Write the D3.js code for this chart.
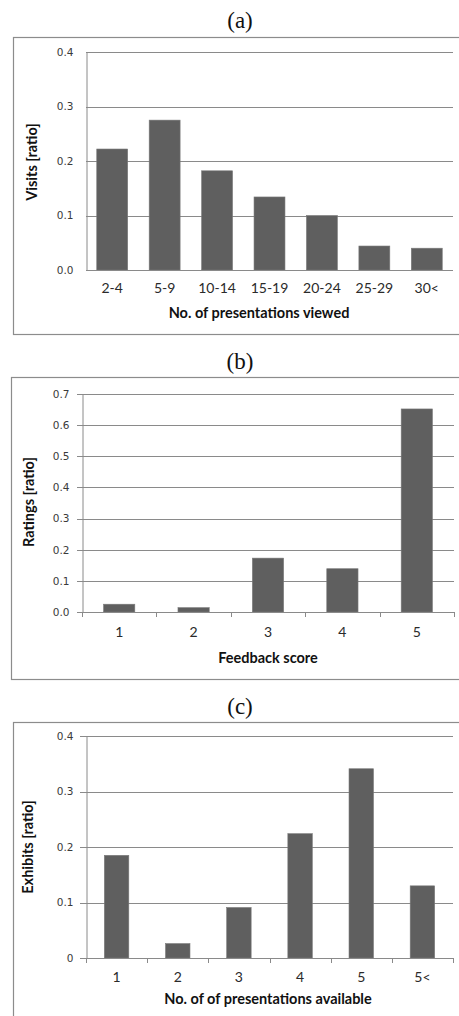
<!DOCTYPE html>
<html>
<head>
<meta charset="utf-8">
<script src="https://cdn.jsdelivr.net/npm/d3@7"></script>
<style>
  body { margin: 0; background: #fff; }
  svg { display: block; }
</style>
</head>
<body>
<div id="chart"></div>
<script>
// panel (a)
var viewedCats = ["2-4", "5-9", "10-14", "15-19", "20-24", "25-29", "30<"];
var viewedVals = [0.222, 0.275, 0.182, 0.134, 0.100, 0.044, 0.040];
var viewedTicks = [0, 0.1, 0.2, 0.3, 0.4];

// panel (b)
var scoreCats = ["1", "2", "3", "4", "5"];
var scoreVals = [0.025, 0.014, 0.173, 0.139, 0.652];
var scoreTicks = [0, 0.1, 0.2, 0.3, 0.4, 0.5, 0.6, 0.7];

// panel (c)
var availCats = ["1", "2", "3", "4", "5", "5<"];
var availVals = [0.185, 0.026, 0.091, 0.224, 0.341, 0.130];
var availTicks = [0, 0.1, 0.2, 0.3, 0.4];
var availTickLabels = ["0", "0.1", "0.2", "0.3", "0.4"];

var width = 459, height = 1016;

var svg = d3.select("#chart").append("svg")
    .attr("width", width)
    .attr("height", height);

function drawPanel(p) {
    // outer frame
    svg.append("rect")
        .attr("x", p.box[0] + 0.5)
        .attr("y", p.box[1] + 0.5)
        .attr("width", p.box[2])
        .attr("height", p.box[3])
        .attr("fill", "none")
        .attr("stroke", "#8c8c8c")
        .attr("stroke-width", 1.2);

    svg.append("text")
        .attr("x", 240)
        .attr("y", p.titleY)
        .attr("text-anchor", "middle")
        .attr("font-family", "Liberation Serif")
        .attr("font-size", 23)
        .attr("fill", "#111")
        .text(p.title);

    var x = d3.scaleBand()
        .domain(p.cats)
        .range([p.left, p.right])
        .paddingInner(p.pad)
        .paddingOuter(p.pad / 2);

    var y = d3.scaleLinear()
        .domain([0, p.ymax])
        .range([p.bottom, p.top]);

    // gridlines
    svg.append("g")
        .selectAll("line")
        .data(p.ticks)
        .enter()
        .append("line")
        .attr("x1", p.left - p.tickLen)
        .attr("x2", p.right)
        .attr("y1", function (d) { return Math.round(y(d)) + 0.5; })
        .attr("y2", function (d) { return Math.round(y(d)) + 0.5; })
        .attr("stroke", "#8a8a8a")
        .attr("stroke-width", 1);

    // y axis labels
    var yAxis = d3.axisLeft(y)
        .tickValues(p.ticks)
        .tickSize(0)
        .tickPadding(p.labelGap)
        .tickFormat(function (d, i) { return p.tickLabels ? p.tickLabels[i] : d3.format(".1f")(d); });

    var gy = svg.append("g")
        .attr("transform", "translate(" + (p.left + 0.5) + ",0)")
        .call(yAxis);
    gy.select(".domain").attr("stroke", "#8a8a8a");
    gy.selectAll("text")
        .attr("font-family", "DejaVu Sans")
        .attr("font-size", 10.5)
        .attr("fill", "#3a3a3a");

    // bars
    svg.append("g")
        .selectAll("rect")
        .data(p.vals)
        .enter()
        .append("rect")
        .attr("x", function (d, i) { return x(p.cats[i]); })
        .attr("width", x.bandwidth())
        .attr("y", function (d) { return y(d); })
        .attr("height", function (d) { return p.bottom - y(d); })
        .attr("fill", "#5f5f5f")
        .attr("stroke", "#7a7a7a")
        .attr("stroke-width", 0.6);

    // x axis
    var xAxis = d3.axisBottom(x).tickSize(0).tickPadding(p.xLabelPad);
    var gx = svg.append("g")
        .attr("transform", "translate(0," + (p.bottom + 0.5) + ")")
        .call(xAxis);
    gx.select(".domain").remove();
    gx.selectAll("text")
        .attr("font-family", "Lato")
        .attr("font-size", 14)
        .attr("fill", "#2a2a2a");

    svg.append("line")
        .attr("x1", p.left)
        .attr("x2", p.right)
        .attr("y1", p.bottom + 0.5)
        .attr("y2", p.bottom + 0.5)
        .attr("stroke", "#8a8a8a");

    if (p.xTicks) {
        var step = x.step();
        svg.append("g")
            .selectAll("line")
            .data(d3.range(p.cats.length + 1))
            .enter()
            .append("line")
            .attr("x1", function (i) { return Math.round(p.left + i * step) + 0.5; })
            .attr("x2", function (i) { return Math.round(p.left + i * step) + 0.5; })
            .attr("y1", p.bottom)
            .attr("y2", p.bottom + 5)
            .attr("stroke", "#8a8a8a");
    }

    // axis titles
    svg.append("text")
        .attr("x", p.xTitleX)
        .attr("y", p.xTitleY)
        .attr("text-anchor", "middle")
        .attr("font-family", "Lato")
        .attr("font-weight", "bold")
        .attr("font-size", 14.5)
        .attr("fill", "#111")
        .text(p.xTitle);

    svg.append("text")
        .attr("transform", "translate(" + p.yTitleX + "," + p.yTitleY + ") rotate(-90)")
        .attr("text-anchor", "middle")
        .attr("font-family", "Lato")
        .attr("font-weight", "bold")
        .attr("font-size", 14.5)
        .attr("fill", "#111")
        .text(p.yTitle);
}

drawPanel({
    title: "(a)", titleY: 28,
    box: [13, 37, 470, 297],
    cats: viewedCats, vals: viewedVals, ticks: viewedTicks, ymax: 0.4,
    left: 86, right: 453, top: 52, bottom: 270,
    pad: 0.41, tickLen: 0, labelGap: 13, xLabelPad: 13, xTicks: false,
    xTitle: "No. of presentations viewed", xTitleX: 259, xTitleY: 318,
    yTitle: "Visits [ratio]", yTitleX: 37, yTitleY: 162
});

drawPanel({
    title: "(b)", titleY: 369,
    box: [11, 377, 470, 302],
    cats: scoreCats, vals: scoreVals, ticks: scoreTicks, ymax: 0.7,
    left: 82, right: 454, top: 394, bottom: 612,
    pad: 0.58, tickLen: 5, labelGap: 13, xLabelPad: 15, xTicks: true,
    xTitle: "Feedback score", xTitleX: 268, xTitleY: 663,
    yTitle: "Ratings [ratio]", yTitleX: 34, yTitleY: 502
});

drawPanel({
    title: "(c)", titleY: 714,
    box: [13, 722, 470, 320],
    cats: availCats, vals: availVals, ticks: availTicks, tickLabels: availTickLabels, ymax: 0.4,
    left: 86, right: 453, top: 736, bottom: 958,
    pad: 0.6, tickLen: 6, labelGap: 13, xLabelPad: 14, xTicks: true,
    xTitle: "No. of of presentations available", xTitleX: 268, xTitleY: 1004,
    yTitle: "Exhibits [ratio]", yTitleX: 33, yTitleY: 847
});
</script>
</body>
</html>
